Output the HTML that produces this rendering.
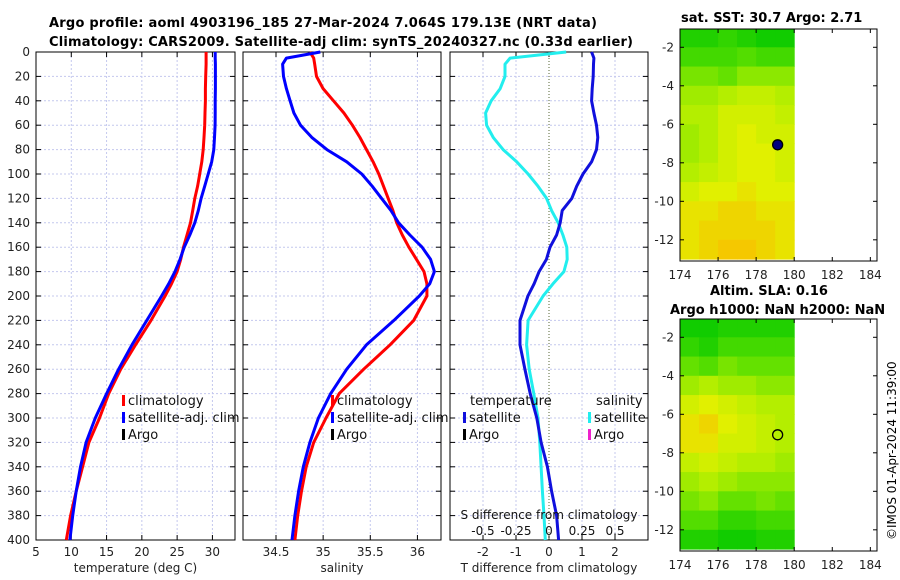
<!DOCTYPE html>
<html><head><meta charset="utf-8"><style>
body{margin:0;background:#fff}
svg{display:block;font-family:"DejaVu Sans","Liberation Sans",sans-serif}
</style></head><body>
<svg id="fig" width="900" height="580" viewBox="0 0 900 580">
<text x="49" y="27" font-weight="bold" font-size="13" textLength="548">Argo profile: aoml 4903196_185 27-Mar-2024 7.064S 179.13E (NRT data)</text>
<text x="49" y="46" font-weight="bold" font-size="13" textLength="584">Climatology: CARS2009. Satellite-adj clim: synTS_20240327.nc (0.33d earlier)</text>
<text x="681" y="22" font-weight="bold" font-size="13">sat. SST: 30.7 Argo: 2.71</text>
<text x="710" y="295" font-weight="bold" font-size="13">Altim. SLA: 0.16</text>
<text x="670" y="314" font-weight="bold" font-size="13">Argo h1000: NaN h2000: NaN</text>
<text transform="translate(896,540) rotate(-90)" font-size="12">©IMOS 01-Apr-2024 11:39:00</text>
<g id="g"></g>
</svg>
<script>
const depths=[0,5,10,20,30,40,50,60,70,80,90,100,110,120,130,140,150,160,170,180,190,200,220,240,260,280,300,320,340,360,380,400];
const tempClim=[29.1,29.1,29.1,29.05,29.0,29.0,28.95,28.9,28.8,28.7,28.5,28.2,27.9,27.5,27.2,26.9,26.4,25.9,25.5,25.0,24.2,23.3,21.3,19.1,17.0,15.3,14.0,12.5,11.6,10.7,9.9,9.3];
const tempSat=[30.4,30.4,30.42,30.42,30.42,30.4,30.4,30.38,30.3,30.2,29.9,29.4,28.9,28.4,28.0,27.5,26.8,26.0,25.4,24.7,23.8,22.8,20.7,18.6,16.7,15.0,13.4,12.1,11.3,10.7,10.2,9.8];
const salClim=[34.86,34.90,34.91,34.93,35.0,35.11,35.22,35.31,35.39,35.46,35.53,35.59,35.64,35.69,35.74,35.78,35.84,35.91,35.99,36.07,36.1,36.1,35.96,35.71,35.43,35.17,35.03,34.90,34.82,34.77,34.73,34.70];
const salSat=[34.97,34.61,34.57,34.58,34.61,34.65,34.69,34.76,34.88,35.04,35.25,35.41,35.52,35.62,35.72,35.80,35.92,36.05,36.14,36.18,36.13,36.02,35.75,35.46,35.25,35.08,34.95,34.86,34.79,34.74,34.70,34.67];
const tDiff=[1.29,1.36,1.35,1.34,1.31,1.29,1.36,1.44,1.48,1.44,1.29,1.03,0.84,0.69,0.40,0.34,0.23,0.03,-0.08,-0.30,-0.45,-0.64,-0.88,-0.88,-0.73,-0.57,-0.37,-0.24,-0.05,0.08,0.23,0.29];
const sDiff=[0.13,-0.295,-0.333,-0.333,-0.37,-0.438,-0.48,-0.473,-0.423,-0.348,-0.245,-0.158,-0.083,-0.018,0.02,0.07,0.105,0.135,0.138,0.113,0.03,-0.045,-0.158,-0.17,-0.15,-0.115,-0.083,-0.07,-0.06,-0.05,-0.038,-0.028];
const depthTicks=[0,20,40,60,80,100,120,140,160,180,200,220,240,260,280,300,320,340,360,380,400];
const tempTicks=[5,10,15,20,25,30];
const salTicks=[34.5,35,35.5,36];
const tdTicks=[-2,-1,0,1,2];
const sdTicks=[-0.5,-0.25,0,0.25,0.5];
const sdTickLabels=["-0.5","-0.25","0","0.25","0.5"];
const latTicks=[-2,-4,-6,-8,-10,-12];
const lonTicks=[174,176,178,180,182,184];
const sstGrid=[
[0.1,0.1,0.15,0.1,0.05,0.05],[0.2,0.2,0.2,0.25,0.2,0.2],[0.35,0.35,0.3,0.4,0.4,0.4],[0.45,0.45,0.5,0.55,0.55,0.5],
[0.5,0.5,0.6,0.6,0.6,0.55],[0.45,0.5,0.6,0.65,0.6,0.6],[0.45,0.5,0.6,0.65,0.65,0.6],[0.5,0.55,0.6,0.65,0.65,0.6],
[0.6,0.65,0.65,0.7,0.65,0.65],[0.7,0.7,0.75,0.75,0.7,0.7],[0.7,0.75,0.75,0.75,0.75,0.7],[0.7,0.75,0.8,0.8,0.75,0.7]];
const slaGrid=[
[0.05,0.05,0.1,0.1,0.1,0.1],[0.15,0.1,0.2,0.2,0.2,0.2],[0.3,0.25,0.35,0.3,0.3,0.3],[0.45,0.5,0.45,0.45,0.4,0.4],
[0.6,0.65,0.6,0.55,0.5,0.5],[0.7,0.75,0.65,0.6,0.55,0.5],[0.7,0.7,0.6,0.6,0.55,0.5],[0.55,0.6,0.55,0.5,0.5,0.45],
[0.45,0.5,0.45,0.4,0.4,0.4],[0.35,0.4,0.3,0.3,0.35,0.3],[0.25,0.25,0.15,0.15,0.2,0.2],[0.1,0.1,0.05,0.05,0.1,0.1]];
const gridLon0=174, gridLat0=-1;
const argoLon=179.13, argoLat=-7.064;

const NS="http://www.w3.org/2000/svg";
const G=document.getElementById('g');
function mk(tag,at,parent){const e=document.createElementNS(NS,tag);for(const k in at)e.setAttribute(k,at[k]);(parent||G).appendChild(e);return e;}
const Y0=52,Y1=540;
const yD=d=>Y0+(d/400)*(Y1-Y0);
function lin(d0,d1,r0,r1){return v=>r0+(v-d0)/(d1-d0)*(r1-r0);}
const panels=[
 {name:'temperature',x0:36,x1:235,sx:lin(5,33.2,36,235),ticks:tempTicks,grid:[10,15,20,25,30],xt:'temperature (deg C)'},
 {name:'salinity',x0:243,x1:441,sx:lin(34.5,36.25,276,441),ticks:salTicks,grid:salTicks,xt:'salinity'},
 {name:'difference',x0:450,x1:648,sx:lin(-3,3,450,648),ticks:tdTicks,grid:[-2,-1,1,2],xt:'T difference from climatology'}
];
panels.forEach((p,i)=>{
 const pg=mk('g',{});
 
 
 depthTicks.forEach(d=>{
  if(d>0&&d<400){const l=mk('line',{x1:p.x0,x2:p.x1,y1:yD(d),y2:yD(d),stroke:'#c4c8ee','stroke-dasharray':'2,2','stroke-width':1},pg);
  }
  mk('line',{x1:p.x0,x2:p.x0+5,y1:yD(d),y2:yD(d),stroke:'#000'},pg);
  mk('line',{x1:p.x1-5,x2:p.x1,y1:yD(d),y2:yD(d),stroke:'#000'},pg);
 });
 p.grid.forEach(v=>{const l=mk('line',{x1:p.sx(v),x2:p.sx(v),y1:Y0,y2:Y1,stroke:'#c4c8ee','stroke-dasharray':'2,2'},pg);
  });
 p.ticks.forEach(v=>{
  const x=p.sx(v);
  mk('line',{x1:x,x2:x,y1:Y1,y2:Y1-5,stroke:'#000'},pg);mk('line',{x1:x,x2:x,y1:Y0,y2:Y0+5,stroke:'#000'},pg);
  const t=mk('text',{x:x,y:556,'font-size':12,'text-anchor':'middle',fill:'#222'},pg);t.textContent=String(v);
  
 });
 const xt=mk('text',{x:(p.x0+p.x1)/2,y:572,'font-size':12,'text-anchor':'middle',fill:'#222'},pg);xt.textContent=p.xt;
 
 const fr=mk('rect',{x:p.x0,y:Y0,width:p.x1-p.x0,height:Y1-Y0,fill:'none',stroke:'#000','stroke-width':1},pg);
 
});
depthTicks.forEach(d=>{const t=mk('text',{x:30,y:yD(d)+4,'font-size':12,'text-anchor':'end',fill:'#222'});t.textContent=String(d);
 });
const zl=mk('line',{x1:panels[2].sx(0),x2:panels[2].sx(0),y1:Y0,y2:Y1,stroke:'#556633','stroke-dasharray':'1,2'});

function series(vals,sx,color,name){
 const pts=vals.map((v,i)=>sx(v).toFixed(1)+','+yD(depths[i]).toFixed(1)).join(' ');
 const pl=mk('polyline',{points:pts,fill:'none',stroke:color,'stroke-width':3,'stroke-linejoin':'round'});
 
 
}
series(tempClim,panels[0].sx,'#ff0000','temp-climatology-line');
series(tempSat,panels[0].sx,'#0000ff','temp-satellite-line');
series(salClim,panels[1].sx,'#ff0000','sal-climatology-line');
series(salSat,panels[1].sx,'#0000ff','sal-satellite-line');
const sdx=lin(-0.75,0.75,450,648);
series(sDiff,sdx,'#22eeee','sal-diff-line');
series(tDiff,panels[2].sx,'#1010dd','temp-diff-line');
const st=mk('text',{x:549,y:519,'font-size':12,'text-anchor':'middle',fill:'#111'});st.textContent='S difference from climatology';

sdTicks.forEach((v,i)=>{const t=mk('text',{x:sdx(v),y:535,'font-size':12,'text-anchor':'middle',fill:'#111'});t.textContent=sdTickLabels[i];
 });
function legend(x,y,color,label,name){
 const g=mk('g',{});
 mk('rect',{x:x,y:y-10,width:3,height:11,fill:color},g);
 const t=mk('text',{x:x+6,y:y,'font-size':13,fill:'#111'},g);t.textContent=label;
}
[[122,'panel1'],[331,'panel2']].forEach(([x,n])=>{
 legend(x,405,'#ff0000','climatology',n+'-legend-climatology');
 legend(x,422,'#0000ff','satellite-adj. clim',n+'-legend-satellite');
 legend(x,439,'#000','Argo',n+'-legend-argo');
});
const th=mk('text',{x:470,y:405,'font-size':13,fill:'#111'});th.textContent='temperature';

const sh=mk('text',{x:596,y:405,'font-size':13,fill:'#111'});sh.textContent='salinity';

legend(463,422,'#1010dd','satellite','legend-temp-satellite');
legend(463,439,'#000','Argo','legend-temp-argo');
legend(588,422,'#22eeee','satellite','legend-sal-satellite');
legend(588,439,'#ee22cc','Argo','legend-sal-argo');
function col(v){
 const stops=[[0,[0,200,0]],[0.3,[100,225,0]],[0.5,[180,238,0]],[0.65,[225,240,0]],[0.8,[245,200,0]]];
 for(let i=0;i<stops.length-1;i++){const [a,ca]=stops[i],[b,cb]=stops[i+1];
  if(v<=b){const f=(v-a)/(b-a);return 'rgb('+ca.map((c,k)=>Math.round(c+(cb[k]-c)*f)).join(',')+')';}}
 return 'rgb(245,200,0)';
}
function map(top,grid,filled,name){
 const bot=top+232;
 const mx=lin(174,184.35,680,877), my=lin(-1.05,-13.1,top,bot);
 const mg=mk('g',{});
 grid.forEach((row,r)=>row.forEach((v,c)=>{
  const x0=mx(gridLon0+c),x1=mx(gridLon0+c+1);
  const y0=my(r===0?-1.05:gridLat0-r), y1=my(Math.max(gridLat0-r-1,-13.1));
  const cell=mk('rect',{x:x0,y:y0,width:x1-x0+0.5,height:y1-y0+0.5,fill:col(v)},mg);
  
  
 }));
 mk('rect',{x:680,y:top,width:197,height:232,fill:'none',stroke:'#000'},mg);
 latTicks.forEach(v=>{mk('line',{x1:680,x2:684,y1:my(v),y2:my(v),stroke:'#000'},mg);mk('line',{x1:873,x2:877,y1:my(v),y2:my(v),stroke:'#000'},mg);
  const t=mk('text',{x:674,y:my(v)+4,'font-size':12,'text-anchor':'end',fill:'#222'},mg);t.textContent=String(v);
  });
 lonTicks.forEach(v=>{mk('line',{x1:mx(v),x2:mx(v),y1:bot,y2:bot-4,stroke:'#000'},mg);mk('line',{x1:mx(v),x2:mx(v),y1:top,y2:top+4,stroke:'#000'},mg);
  const t=mk('text',{x:mx(v),y:bot+18,'font-size':12,'text-anchor':'middle',fill:'#222'},mg);t.textContent=String(v);
  });
 const m=mk('circle',{cx:mx(argoLon),cy:my(argoLat),r:5,fill:filled?'#000080':'none',stroke:'#000','stroke-width':1.3},mg);
 
}
map(29,sstGrid,true,'sst-map');
map(319,slaGrid,false,'sla-map');
</script>
</body></html>
